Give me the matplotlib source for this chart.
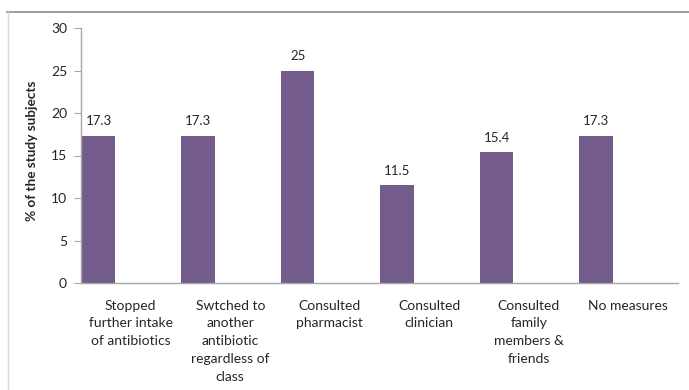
import matplotlib.pyplot as plt
from matplotlib.lines import Line2D

# Data
categories = [
    "Stopped\nfurther intake\nof antibiotics",
    "Swtched to\nanother\nantibiotic\nregardless of\nclass",
    "Consulted\npharmacist",
    "Consulted\nclinician",
    "Consulted\nfamily\nmembers &\nfriends",
    "No measures",
]
values = [17.3, 17.3, 25, 11.5, 15.4, 17.3]
value_labels = ["17.3", "17.3", "25", "11.5", "15.4", "17.3"]
y_ticks = [0, 5, 10, 15, 20, 25, 30]

bar_color = "#735B8C"
axis_color = "#A6A6A6"
text_color = "#262626"

plt.rcParams["font.family"] = ["Lato", "DejaVu Sans"]

fig = plt.figure(figsize=(6.89, 3.90), dpi=100)
ax = fig.add_axes([81 / 689, 1 - 283 / 390, (678 - 81) / 689, (283 - 28) / 390])

# bars sit at the left edge of each category slot, labels are centred in the slot
n = len(categories)
lefts = [i + 0.01 for i in range(n)]
ax.bar(lefts, values, width=0.335, align="edge", color=bar_color, edgecolor="none", zorder=2)

for x, v, lab in zip(lefts, values, value_labels):
    ax.text(x + 0.1675, v + 1.0, lab, ha="center", va="bottom", fontsize=9.5, color=text_color)

ax.set_xlim(0, n)
ax.set_ylim(0, 30)
ax.set_xticks([i + 0.5 for i in range(n)])
ax.set_xticklabels(categories, fontsize=10, color=text_color, linespacing=1.58, va="top")
ax.tick_params(axis="x", length=0, pad=12)
ax.set_yticks(y_ticks)
ax.set_yticklabels([str(t) for t in y_ticks], fontsize=10, color=text_color)
ax.tick_params(axis="y", length=5, width=0.8, color=axis_color, pad=5)

for s in ["top", "right"]:
    ax.spines[s].set_visible(False)
for s in ["left", "bottom"]:
    ax.spines[s].set_color(axis_color)
    ax.spines[s].set_linewidth(1.0)

ax.set_ylabel("% of the study subjects", fontsize=9.8, fontweight="bold", color=text_color, labelpad=6)
ax.yaxis.set_label_coords(-0.072, 0.52)

# chart area frame (only top and left edges show in the crop)
fig.add_artist(Line2D([7 / 689, 1], [1 - 11.5 / 390] * 2, transform=fig.transFigure, color="#8C8C8C", lw=1.2))
fig.add_artist(Line2D([7.5 / 689] * 2, [0, 1 - 11.5 / 390], transform=fig.transFigure, color="#D9D9D9", lw=1.0))

fig.savefig("out.png", dpi=100, facecolor="white")
